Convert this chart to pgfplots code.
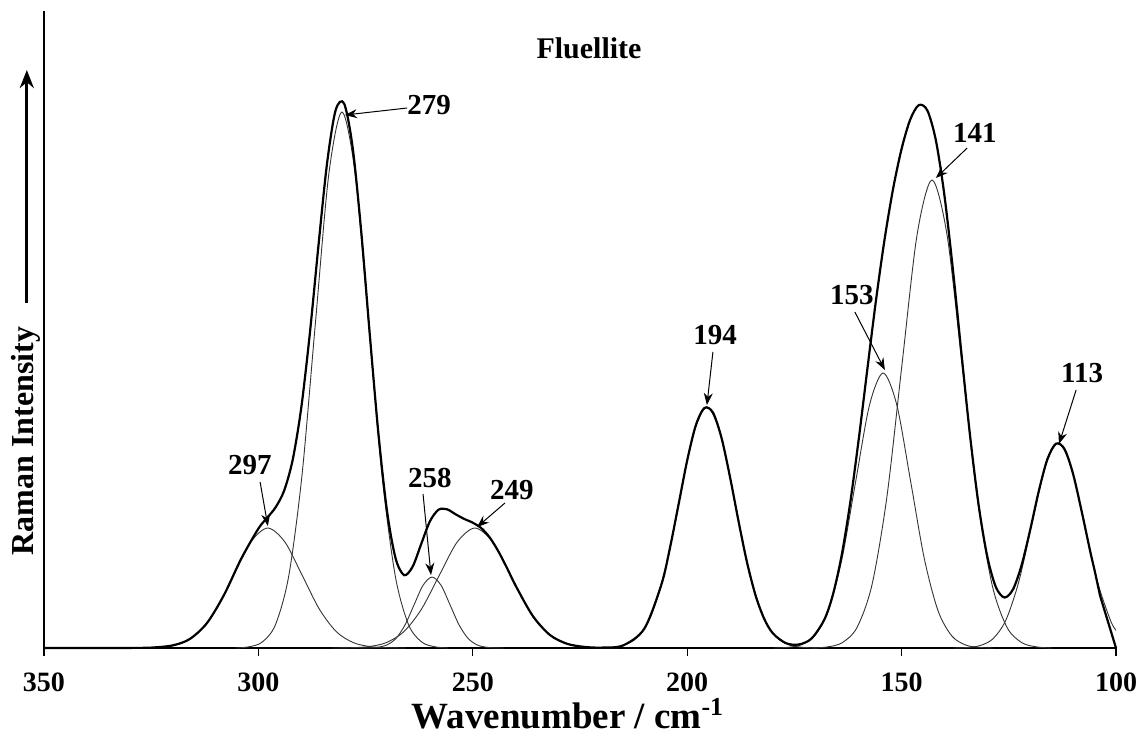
\documentclass[border=0pt]{standalone}
\usepackage{fontspec}
\setmainfont{Liberation Serif}
\usepackage{pgfplots}
\pgfplotsset{compat=1.18}
\usetikzlibrary{arrows.meta}
\begin{document}
\begin{tikzpicture}
\useasboundingbox (-22pt,-46pt) rectangle (549.5pt,324pt);
\begin{axis}[
  at={(0pt,0pt)}, anchor=south west,
  scale only axis, width=536pt, height=318.5pt,
  xmin=100, xmax=350, ymin=0, ymax=637,
  x dir=reverse,
  axis x line*=bottom, axis y line*=left,
  xtick={100,150,200,250,300,350},
  xticklabels={100,150,200,250,300,350},
  ytick=\empty,
  tick align=outside, major tick length=4pt,
  xticklabel style={font=\fontsize{14}{16}\selectfont\bfseries, anchor=base, yshift=-17.5pt, inner sep=0pt},
  axis line style={line width=0.6pt},
  tick style={line width=0.6pt, black},
  clip=false,
  comp/.style={smooth, no markers, line width=0.45pt, black!80},
  sumc/.style={smooth, no markers, line width=1.1pt, black},
]
% component 297
\addplot[comp] coordinates {(265.8,0) (269.8,0.26) (273.8,1.33) (277.8,5.27) (281.8,16.2) (285.8,39.0) (289.8,72.8) (293.8,105.9) (297.8,120) (301.8,105.9) (305.8,72.8) (309.8,39.0) (313.8,16.2) (317.8,5.27) (321.8,1.33) (325.8,0.26) (329.8,0)};
% component 279
\addplot[comp] coordinates {(255.7,0) (258.8,1.18) (261.9,5.95) (265.0,23.5) (268.1,72.5) (271.2,174.0) (274.3,325.1) (277.4,473.0) (280.5,536) (283.6,473.0) (286.7,325.1) (289.8,174.0) (292.9,72.5) (296.0,23.5) (299.1,5.95) (302.2,1.18) (305.3,0)};
% component 258
\addplot[comp] coordinates {(242.7,0) (244.8,0.16) (246.9,0.79) (249.0,3.12) (251.1,9.6) (253.2,23.1) (255.3,43.1) (257.4,62.7) (259.5,71) (261.6,62.7) (263.7,43.1) (265.8,23.1) (267.9,9.6) (270.0,3.12) (272.1,0.79) (274.2,0.16) (276.3,0)};
% component 249
\addplot[comp] coordinates {(216.3,0) (220.45,0.26) (224.6,1.33) (228.75,5.27) (232.9,16.2) (237.05,39.0) (241.2,72.8) (245.35,105.9) (249.5,120) (253.65,105.9) (257.8,72.8) (261.95,39.0) (266.1,16.2) (270.25,5.27) (274.4,1.33) (278.55,0.26) (282.7,0)};
% component 194
\addplot[comp] coordinates {(169.4,0) (172.65,0.53) (175.9,2.68) (179.15,10.6) (182.4,32.6) (185.65,78.3) (188.9,146.2) (192.15,212.7) (195.4,241) (198.65,212.7) (201.9,146.2) (205.15,78.3) (208.4,32.6) (211.65,10.6) (214.9,2.68) (218.15,0.53) (221.4,0)};
% component 153
\addplot[comp] coordinates {(128.7,0) (131.9,0.6) (135.1,3.05) (138.3,12.1) (141.5,37.2) (144.7,89.3) (147.9,166.8) (151.1,242.7) (154.3,275) (157.5,242.7) (160.7,166.8) (163.9,89.3) (167.1,37.2) (170.3,12.1) (173.5,3.05) (176.7,0.6) (179.9,0)};
% component 141
\addplot[comp] coordinates {(114.9,0) (118.4,1.03) (121.9,5.2) (125.4,20.5) (128.9,63.3) (132.4,152.0) (135.9,283.8) (139.4,413.0) (142.9,468) (146.4,413.0) (149.9,283.8) (153.4,152.0) (156.9,63.3) (160.4,20.5) (163.9,5.2) (167.4,1.03) (170.9,0)};
% component 113
\addplot[comp] coordinates {(100,17.7) (101.3,27.7) (104.35,66.6) (107.4,124.3) (110.45,180.9) (113.5,205) (116.55,180.9) (119.6,124.3) (122.65,66.6) (125.7,27.7) (128.75,9.0) (131.8,2.28) (134.85,0.45) (137.9,0)};
% measured spectrum
\addplot[sumc] coordinates {(350,0) (340,0) (330,0.1) (325,0.4) (320,2.6) (316,9.0) (312,24.9) (308,53.2) (304,89.3) (300,119.4) (298,130) (296,140.6) (294,157.3) (292,188.2) (290,240.3) (288,314.6) (286,402) (284,484.2) (282,537.6) (280,544.4) (278,500) (276,415.6) (274,312.4) (272,214) (270,136.8) (268,89.6) (266,72.8) (264,81.6) (262,104.4) (260,126.7) (258,138.3) (256,138.7) (254,133.7) (252,129.1) (250,125.3) (248,119.8) (246,110.2) (244,96.4) (242,79.8) (240,62.3) (236,32) (232,13) (228,4.2) (224,1.1) (220,0.4) (215,2.5) (210,19.3) (206,63.7) (204,100.5) (202,143.9) (200,187.6) (198,222.5) (196,240) (194,235.5) (192,210.2) (190,170.7) (188,126.1) (186,84.7) (184,51.8) (182,28.8) (180,14.6) (177,4.9) (174,3.5) (171,9.5) (168,28.6) (166,53.7) (164,92.2) (162,144.7) (160,208.7) (158,278.4) (156,346.8) (154,407.8) (152,458.8) (150,499.2) (148,528.3) (146,542.9) (144,537.6) (142,507.5) (140,452.2) (138,377.1) (136,292.7) (134,211) (132,141.9) (130,91.1) (128,60.8) (126,50.5) (124,58.8) (122,83.1) (120,118.4) (118,157) (116,188.8) (114,204.3) (112,198.9) (110,173.9) (108,136.5) (106,96.3) (105,77.7) (103.7,52)};
\addplot[no markers, line width=1.1pt, black] coordinates {(103.7,52) (100,0)};

% annotations
\tikzset{lab/.style={font=\fontsize{14.5}{17}\selectfont\bfseries},
         arr/.style={-{Stealth[length=6pt,width=4.5pt]}, line width=0.5pt}}
\node[lab] at (axis cs:301.96,183) {297};
\draw[arr] (axis cs:299.6,166) -- (axis cs:297.8,122);
\node[lab] at (axis cs:260.2,543) {279};
\draw[arr] (axis cs:265.3,540) -- (axis cs:279.8,533);
\node[lab] at (axis cs:260.0,170) {258};
\draw[arr] (axis cs:261.6,154) -- (axis cs:259.75,73);
\node[lab] at (axis cs:240.9,158) {249};
\draw[arr] (axis cs:242.5,145) -- (axis cs:249.0,121);
\node[lab] at (axis cs:193.5,313) {194};
\draw[arr] (axis cs:194.0,296) -- (axis cs:195.4,243);
\node[lab] at (axis cs:161.6,353) {153};
\draw[arr] (axis cs:160.9,336) -- (axis cs:153.9,278);
\node[lab] at (axis cs:132.9,515) {141};
\draw[arr] (axis cs:134.7,500) -- (axis cs:142.0,470);
\node[lab] at (axis cs:107.9,275) {113};
\draw[arr] (axis cs:109.3,258) -- (axis cs:113.3,204);

% title
\node[font=\fontsize{15}{18}\selectfont\bfseries] at (axis cs:222.9,600) {Fluellite};
% y label and arrow
\node[font=\fontsize{16}{19}\selectfont\bfseries, rotate=90] at (axis cs:354.2,207) {Raman Intensity};
\draw[-{Stealth[length=9pt,width=7pt]}, line width=1.5pt] (axis cs:354.0,345) -- (axis cs:354.0,578);
% x label
\node[font=\fontsize{18.5}{22}\selectfont\bfseries, anchor=base, inner sep=0pt] at (axis cs:227.8,-80) {Wavenumber / cm\textsuperscript{-1}};
\end{axis}
\end{tikzpicture}
\end{document}
